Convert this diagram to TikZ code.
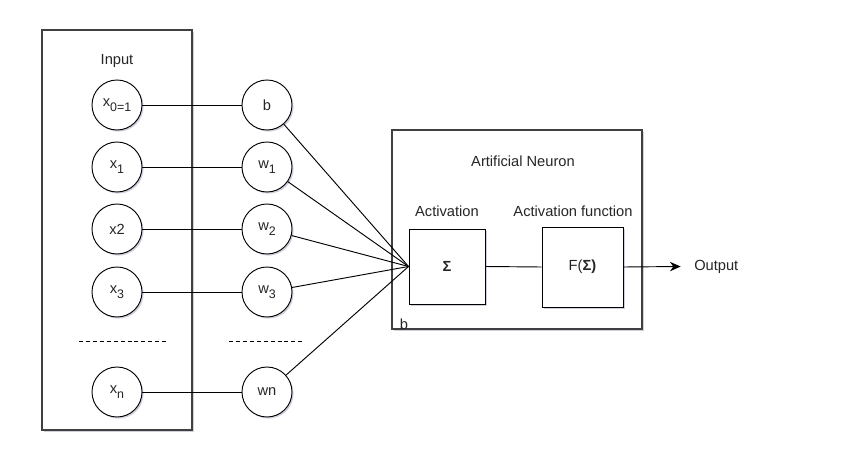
\documentclass[tikz,border=0pt]{standalone}
\usepackage{fontspec}
\setmainfont{Liberation Sans}
\usetikzlibrary{arrows.meta,shadows}
\newcommand{\lowsub}[1]{\raisebox{-0.3em}{\fontsize{9.3pt}{10pt}\selectfont #1}}
\begin{document}
\begin{tikzpicture}[x=0.75pt,y=-0.75pt,
  every node/.style={font=\fontsize{11pt}{13pt}\selectfont, text=black!85},
  shad/.style={drop shadow={shadow xshift=1.2pt,shadow yshift=-1.2pt,opacity=0.18,fill=blue!30!black}},
  boxframe/.style={draw=black!75, line width=0.8pt, fill=white, shad},
  circ/.style={circle, draw=black, line width=0.7pt, fill=white, minimum size=37.5pt, inner sep=0pt, shad},
  sq/.style={draw=black, line width=0.7pt, fill=white, inner sep=0pt, shad},
  conn/.style={draw=black, line width=0.7pt},
  lbl/.style={inner sep=0pt}
]
\useasboundingbox (0,0) rectangle (847,475);
\fill[white] (0,0) rectangle (847,475);
% input box
\draw[boxframe] (42,30) rectangle (192,430);
\node[lbl] (inlbl) at (117,61) {Input};
% neuron box
\draw[boxframe] (392,130) rectangle (642,329);
\node[lbl] (anlbl) at (523,161) {Artificial Neuron};
\node[lbl] (blbl) at (404,324) {b};
\node[lbl] (actlbl) at (447,211) {Activation};
\node[lbl] (aflbl) at (573,211) {Activation function};
% input circles
\node[circ] (x0) at (117,105) {x\lowsub{0=1}};
\node[circ] (x1) at (117,167) {x\lowsub{1}};
\node[circ] (x2) at (117,229) {x2};
\node[circ] (x3) at (117,292) {x\lowsub{3}};
\node[circ] (xn) at (117,392) {x\lowsub{n}};
% weight circles
\node[circ] (b) at (267,105) {b};
\node[circ] (w1) at (267,167) {w\lowsub{1}};
\node[circ] (w2) at (267,229) {w\lowsub{2}};
\node[circ] (w3) at (267,292) {w\lowsub{3}};
\node[circ] (wn) at (267,392) {wn};
% dashed separators
\coordinate (d1a) at (79,341); \coordinate (d1b) at (167,341);
\coordinate (d2a) at (229,341); \coordinate (d2b) at (302,341);
\draw[black, line width=0.7pt, dash pattern=on 3pt off 2.2pt] (d1a) -- (d1b);
\draw[black, line width=0.7pt, dash pattern=on 3pt off 2.2pt] (d2a) -- (d2b);
% boxes
\node[sq, minimum width=57pt, minimum height=56.25pt] (sum) at (447,266.5) {\textbf{Σ}};
\node[sq, minimum width=60.75pt, minimum height=60pt] (fn) at (582.5,267) {F(\textbf{Σ)}};
\node[lbl, anchor=west] (out) at (694,266.5) {Output};
% connectors
\draw[conn] (x0) -- (b);
\draw[conn] (x1) -- (w1);
\draw[conn] (x2) -- (w2);
\draw[conn] (x3) -- (w3);
\draw[conn] (xn) -- (wn);
\foreach \w in {b,w1,w2,w3,wn} \draw[conn] (\w) -- (sum.west);
\draw[conn] (sum.east) -- (fn.west);
\draw[conn, -{Stealth[length=8pt,width=7pt,inset=2.5pt]}] (fn.east) -- ([xshift=-10pt]out.west);
\end{tikzpicture}
\end{document}
